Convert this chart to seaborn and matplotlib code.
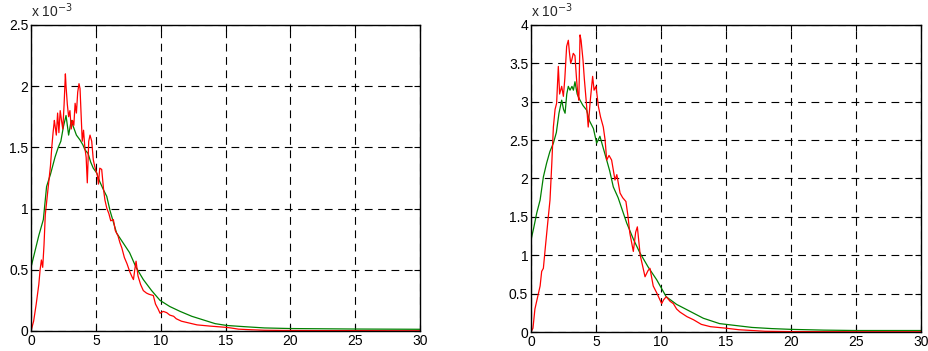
"""
Two distribution curves (red = measured, green = fitted), x 10^-3 scale
"""
import numpy as np
import matplotlib
matplotlib.use("Agg")
import matplotlib.pyplot as plt
import seaborn as sns

sns.set_style("ticks")
plt.rcParams['font.family'] = ['Liberation Sans', 'DejaVu Sans']

# ---- left panel (values in units of 1e-3) ----
left_red_x = [0, 0.2, 0.4, 0.6, 0.7, 0.8, 0.9, 1.0, 1.1, 1.2, 1.35, 1.5, 1.6, 1.7, 1.8, 1.85, 1.95, 2.05, 2.15, 2.25,
              2.35, 2.45, 2.55, 2.65, 2.7, 2.8, 2.9, 3.0, 3.1, 3.2, 3.3, 3.4, 3.5, 3.6, 3.7, 3.78, 3.85, 3.95, 4.05, 4.15,
              4.25, 4.34, 4.45, 4.55, 4.68, 4.8, 4.9, 5.0, 5.1, 5.2, 5.3, 5.45, 5.6, 5.7, 5.85, 6.0, 6.15, 6.35, 6.5, 6.7,
              6.86, 7.0, 7.2, 7.4, 7.63, 7.8, 7.9, 8.0, 8.1, 8.25, 8.45, 8.66, 8.9, 9.1, 9.43, 9.6, 9.8, 9.95, 10.2, 10.46,
              10.7, 11.0, 11.2, 11.6, 12.0, 12.4, 12.8, 13.3, 13.8, 14.4, 15.0, 15.4, 16.0, 17.0, 18.0, 20, 22, 25, 28, 30]
left_red_y = [0, 0.08, 0.22, 0.38, 0.5, 0.58, 0.52, 0.7, 0.95, 1.05, 1.2, 1.35, 1.5, 1.62, 1.72, 1.68, 1.6, 1.78, 1.62, 1.8,
              1.72, 1.65, 1.85, 2.1, 2.0, 1.85, 1.75, 1.8, 1.65, 1.72, 1.68, 1.86, 1.78, 1.95, 2.02, 1.98, 1.8, 1.55, 1.64, 1.5,
              1.42, 1.21, 1.55, 1.6, 1.55, 1.4, 1.35, 1.31, 1.28, 1.2, 1.33, 1.32, 1.15, 1.07, 1.0, 0.96, 0.9, 0.91, 0.82, 0.78,
              0.72, 0.68, 0.6, 0.55, 0.48, 0.44, 0.42, 0.5, 0.57, 0.45, 0.38, 0.33, 0.31, 0.3, 0.29, 0.22, 0.18, 0.145, 0.16, 0.15,
              0.13, 0.12, 0.10, 0.08, 0.07, 0.06, 0.05, 0.045, 0.04, 0.035, 0.03, 0.025, 0.015, 0.01, 0.006, 0.004, 0.003, 0.003, 0.002, 0.002]
left_green_x = [0, 0.3, 0.6, 0.95, 1.2, 1.5, 1.85, 2.1, 2.3, 2.5, 2.7, 2.9, 3.1, 3.26, 3.5, 3.78, 4.0, 4.16, 4.4, 4.6,
                4.8, 5.07, 5.3, 5.6, 5.84, 6.1, 6.6, 7.1, 7.6, 8.1, 8.66, 9.3, 9.95, 10.7, 11.5, 12.4, 13.3, 14.2, 15.1, 16.5,
                18, 20, 22.5, 25, 27.5, 30]
left_green_y = [0.52, 0.65, 0.78, 0.91, 1.18, 1.28, 1.42, 1.5, 1.55, 1.67, 1.76, 1.6, 1.72, 1.67, 1.6, 1.56, 1.52, 1.48, 1.45, 1.38,
                1.33, 1.29, 1.22, 1.15, 1.1, 0.98, 0.8, 0.72, 0.64, 0.52, 0.42, 0.33, 0.25, 0.2, 0.16, 0.12, 0.09, 0.06, 0.045, 0.035,
                0.025, 0.02, 0.018, 0.016, 0.015, 0.014]

# ---- right panel (values in units of 1e-3) ----
right_red_x = [0, 0.15, 0.3, 0.5, 0.7, 0.82, 0.95, 1.1, 1.33, 1.46, 1.6, 1.72, 1.85, 1.97, 2.1, 2.2, 2.36, 2.49, 2.6, 2.74,
               2.87, 2.95, 3.05, 3.13, 3.25, 3.38, 3.5, 3.6, 3.68, 3.77, 3.85, 4.0, 4.1, 4.25, 4.4, 4.55, 4.74, 4.85, 5.0, 5.18,
               5.35, 5.56, 5.7, 5.82, 6.0, 6.2, 6.46, 6.6, 6.85, 7.05, 7.3, 7.45, 7.6, 7.87, 8.05, 8.18, 8.4, 8.6, 8.77, 9.0,
               9.15, 9.4, 9.7, 10.05, 10.2, 10.4, 10.7, 10.95, 11.2, 11.46, 12.0, 12.5, 13.1, 13.8, 14.4, 15.0, 16.0, 17.0, 18.0, 20,
               22, 25, 28, 30]
right_red_y = [0, 0.05, 0.3, 0.45, 0.6, 0.79, 0.83, 1.1, 1.5, 1.72, 2.2, 2.67, 2.9, 2.98, 3.46, 3.1, 3.2, 3.07, 3.3, 3.72,
               3.8, 3.65, 3.5, 3.54, 3.63, 3.6, 3.3, 3.1, 3.02, 3.87, 3.8, 3.54, 3.3, 3.0, 2.67, 3.0, 3.33, 3.15, 3.2, 2.94,
               2.8, 2.67, 2.5, 2.24, 2.3, 2.24, 1.98, 2.05, 1.81, 1.75, 1.7, 1.52, 1.29, 1.05, 1.3, 1.37, 1.0, 0.85, 0.72, 0.8,
               0.83, 0.6, 0.5, 0.37, 0.42, 0.46, 0.4, 0.37, 0.3, 0.26, 0.2, 0.16, 0.1, 0.07, 0.06, 0.05, 0.03, 0.02, 0.01, 0.006,
               0.005, 0.004, 0.004, 0.004]
right_green_x = [0, 0.2, 0.44, 0.7, 0.95, 1.2, 1.45, 1.72, 1.95, 2.15, 2.36, 2.5, 2.62, 2.75, 2.87, 3.0, 3.15, 3.26, 3.38, 3.55,
                 3.77, 4.0, 4.28, 4.5, 4.8, 5.05, 5.3, 5.55, 5.82, 6.05, 6.33, 6.7, 7.1, 7.36, 7.9, 8.38, 9.0, 9.67, 10.4, 11.2,
                 12.0, 13.25, 14.5, 15.5, 17, 18.5, 20, 22.5, 25, 27.5, 30]
right_green_y = [1.2, 1.35, 1.55, 1.72, 2.02, 2.2, 2.35, 2.46, 2.6, 2.85, 3.02, 2.9, 2.85, 3.1, 3.2, 3.15, 3.2, 3.15, 3.26, 3.1,
                 3.02, 2.95, 2.89, 2.75, 2.65, 2.46, 2.55, 2.4, 2.24, 2.1, 1.89, 1.75, 1.55, 1.42, 1.2, 1.03, 0.85, 0.68, 0.46, 0.36,
                 0.29, 0.18, 0.11, 0.09, 0.06, 0.045, 0.035, 0.025, 0.02, 0.02, 0.02]

x_ticks = [0, 5, 10, 15, 20, 25, 30]
left_y_ticks = [0, 0.5, 1, 1.5, 2, 2.5]
right_y_ticks = [0, 0.5, 1, 1.5, 2, 2.5, 3, 3.5, 4]


def draw_panel(ax, red_x, red_y, green_x, green_y, y_ticks):
    sns.lineplot(x=green_x, y=green_y, color='#008000', lw=0.9, estimator=None, sort=False, ax=ax)
    sns.lineplot(x=red_x, y=red_y, color='#ff0000', lw=0.9, estimator=None, sort=False, ax=ax)
    ax.set_xlim(0, 30)
    ax.set_ylim(0, y_ticks[-1])
    ax.set_xticks(x_ticks)
    ax.set_yticks(y_ticks)
    ax.set_yticklabels(['%g' % t for t in y_ticks])
    ax.grid(True, color='black', linestyle=(0, (7, 5)), linewidth=0.8)
    ax.set_axisbelow(True)
    for s in ax.spines.values():
        s.set_color('black')
        s.set_linewidth(1.0)
        s.set_visible(True)
    ax.tick_params(direction='in', length=4, top=True, right=True, labelsize=10, pad=2, colors='black')
    # scale factor label above the y axis
    ax.text(0.0, 1.025, r'x 10$^{-3}$', transform=ax.transAxes, fontsize=10, va='baseline', ha='left')


fig = plt.figure(figsize=(9.29, 3.51), dpi=100)
ax1 = fig.add_axes([0.0334, 0.057, 0.4187, 0.872])
ax2 = fig.add_axes([0.5716, 0.054, 0.4198, 0.875])

draw_panel(ax1, left_red_x, left_red_y, left_green_x, left_green_y, left_y_ticks)
draw_panel(ax2, right_red_x, right_red_y, right_green_x, right_green_y, right_y_ticks)

fig.savefig('out.png', dpi=100)
